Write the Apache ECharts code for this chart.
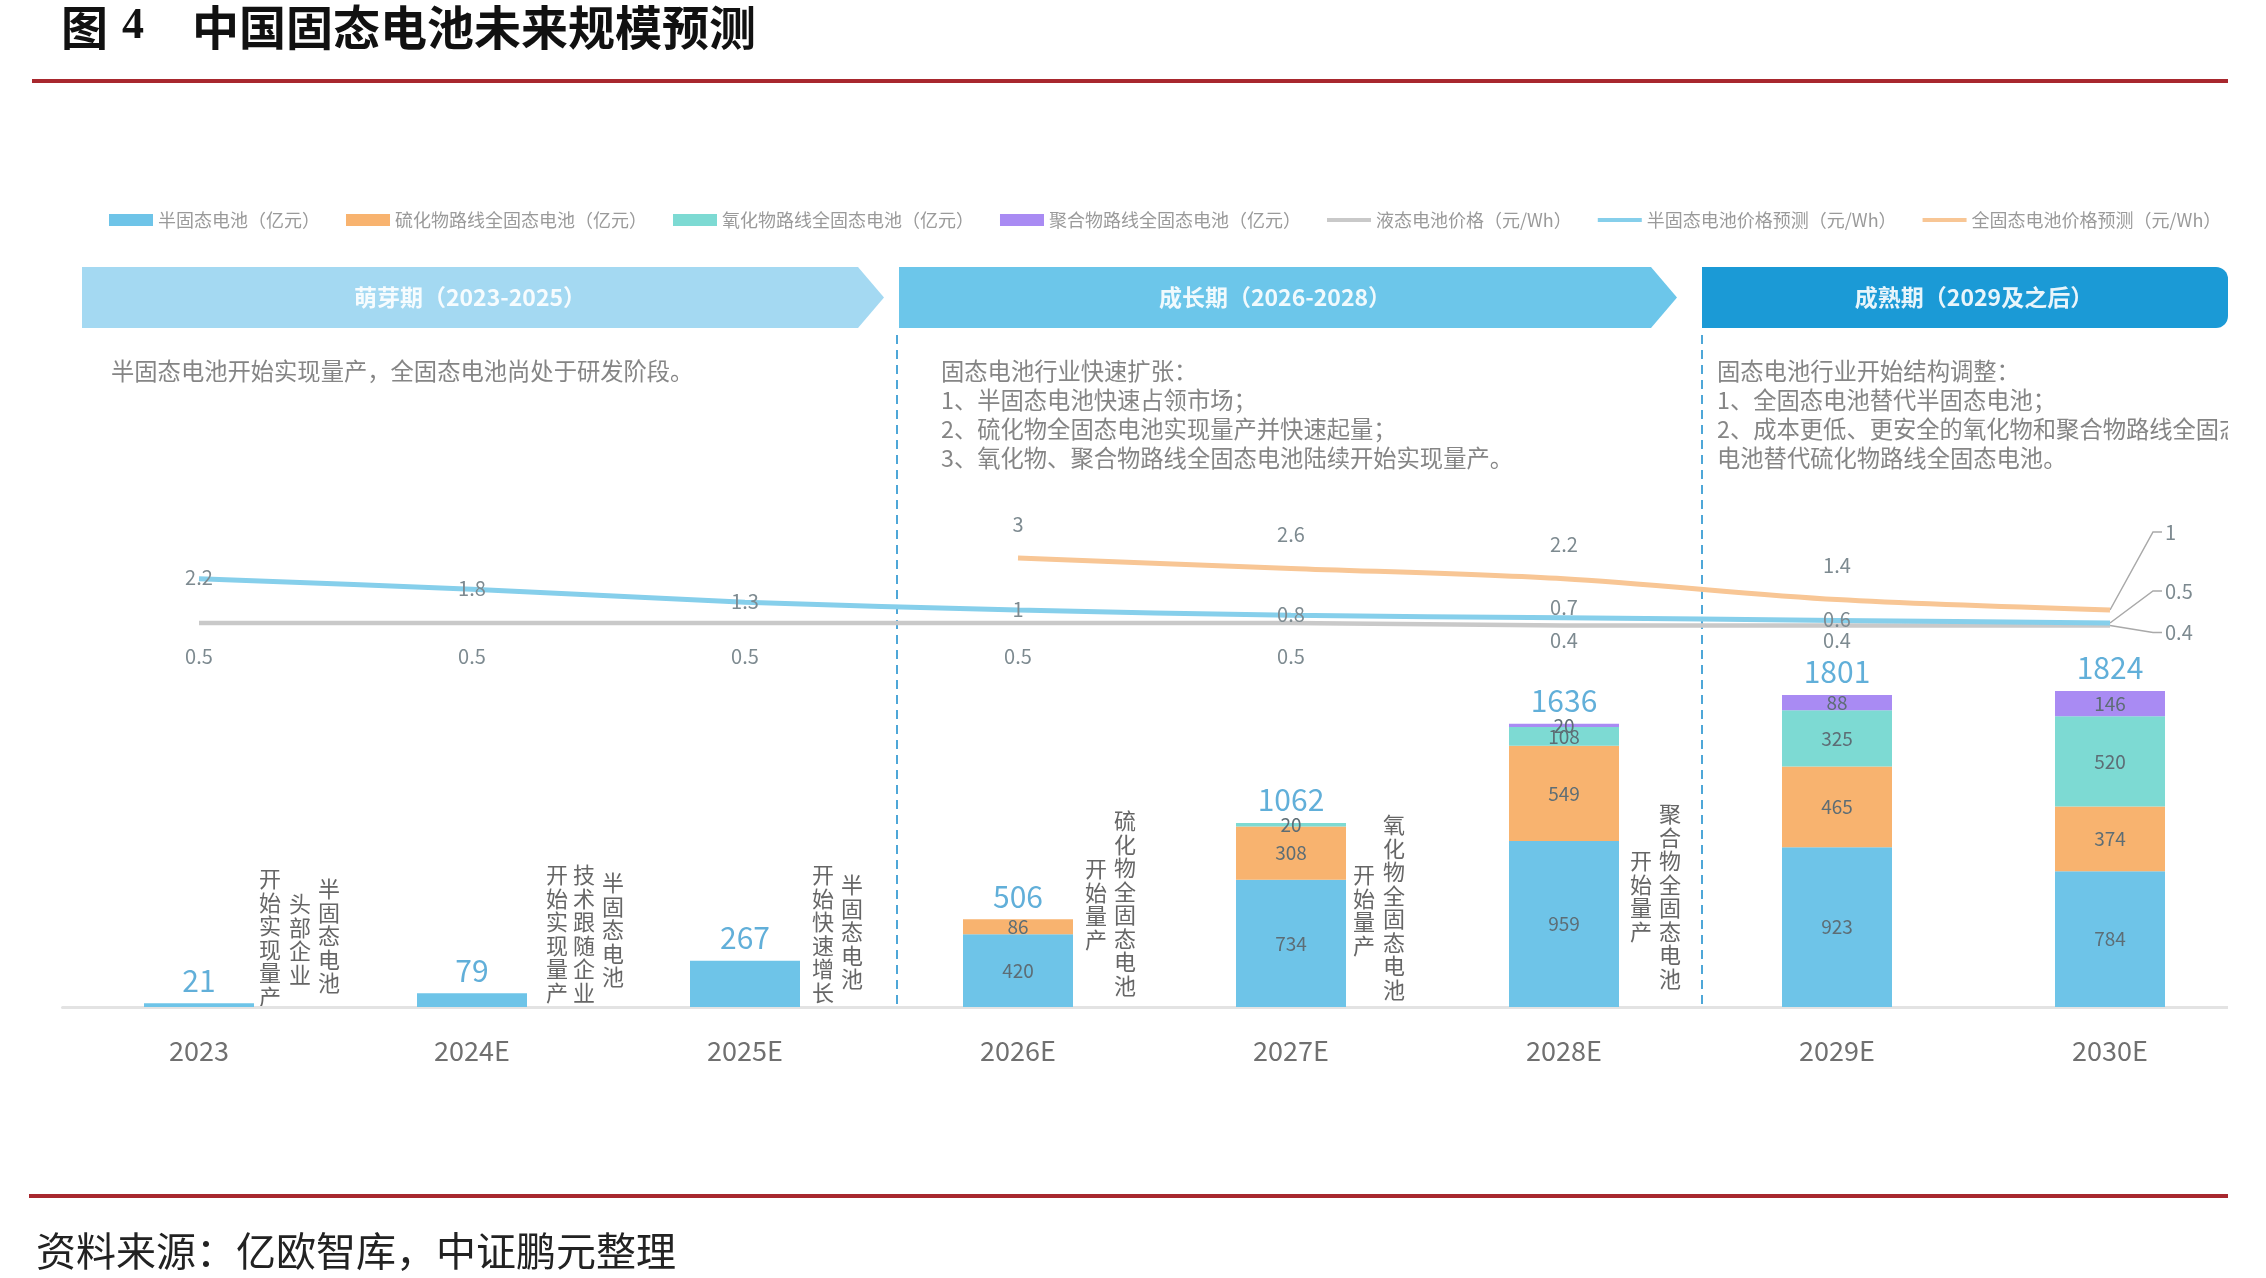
<!DOCTYPE html>
<html>
<head>
<meta charset="utf-8">
<script src="https://cdn.jsdelivr.net/npm/echarts@6/dist/echarts.min.js"></script>
<style>
html,body{margin:0;padding:0;background:#fff;}
#c{width:2266px;height:1278px;overflow:hidden;}
</style>
</head>
<body>
<div id="c"></div>
<script>
// ---------------- DATA ----------------
const categories = ['2023', '2024E', '2025E', '2026E', '2027E', '2028E', '2029E', '2030E'];
const semiSolid = [21, 79, 267, 420, 734, 959, 923, 784];          // 半固态电池（亿元）
const sulfide   = [null, null, null, 86, 308, 549, 465, 374];      // 硫化物路线全固态电池（亿元）
const oxide     = [null, null, null, null, 20, 108, 325, 520];     // 氧化物路线全固态电池（亿元）
const polymer   = [null, null, null, null, null, 20, 88, 146];     // 聚合物路线全固态电池（亿元）
const liquidPrice   = [0.5, 0.5, 0.5, 0.5, 0.5, 0.4, 0.4, 0.4];    // 液态电池价格（元/Wh）
const semiPrice     = [2.2, 1.8, 1.3, 1, 0.8, 0.7, 0.6, 0.5];      // 半固态电池价格预测（元/Wh）
const allSolidPrice = [null, null, null, 3, 2.6, 2.2, 1.4, 1];     // 全固态电池价格预测（元/Wh）

const seriesNames = ['半固态电池（亿元）', '硫化物路线全固态电池（亿元）', '氧化物路线全固态电池（亿元）', '聚合物路线全固态电池（亿元）',
  '液态电池价格（元/Wh）', '半固态电池价格预测（元/Wh）', '全固态电池价格预测（元/Wh）'];

const titleText = '中国固态电池未来规模预测';
const sourceText = '资料来源：亿欧智库，中证鹏元整理';
const phaseTitles = ['萌芽期（2023-2025）', '成长期（2026-2028）', '成熟期（2029及之后）'];
const phaseNotes = [
  ['半固态电池开始实现量产，全固态电池尚处于研发阶段。'],
  ['固态电池行业快速扩张：', '1、半固态电池快速占领市场；', '2、硫化物全固态电池实现量产并快速起量；', '3、氧化物、聚合物路线全固态电池陆续开始实现量产。'],
  ['固态电池行业开始结构调整：', '1、全固态电池替代半固态电池；', '2、成本更低、更安全的氧化物和聚合物路线全固态', '电池替代硫化物路线全固态电池。']
];
const annotationCats = ['2023', '2024E', '2025E', '2026E', '2027E', '2028E'];
const annotationTexts = [
  ['开始实现量产', '头部企业', '半固态电池'],
  ['开始实现量产', '技术跟随企业', '半固态电池'],
  ['开始快速增长', '半固态电池'],
  ['开始量产', '硫化物全固态电池'],
  ['开始量产', '氧化物全固态电池'],
  ['开始量产', '聚合物全固态电池']
];

// ---------------- STYLE / LAYOUT ----------------
const FONT = '"Noto Sans CJK SC", "Noto Sans", sans-serif';
const barColors = ['#6EC4E8', '#F8B36F', '#7DDAD3', '#A98BF3'];
const lineColors = ['#c9c9c9', '#86cfeb', '#f8c695'];
const LINE_ICON = 'path://M0,0 L44,0 L44,4 L0,4 Z';
const CLIP_X = 2228; // right edge of the original figure
// annotation column offsets from category centre [dx, top]
const annotationLayout = [
  [[71, 867], [101, 892], [130, 877]],
  [[85, 863], [112, 863], [141, 871]],
  [[78, 863], [107, 873]],
  [[78, 857], [107, 809]],
  [[73, 863], [103, 813]],
  [[77, 849], [106, 802]]
];

const stacks = [semiSolid, sulfide, oxide, polymer];
const totals = categories.map((_, i) => stacks.reduce((s, a) => s + (a[i] || 0), 0));

const chart = echarts.init(document.getElementById('c'));

function barSeries(k) {
  return {
    name: seriesNames[k], type: 'bar', stack: 'total', xAxisIndex: 0, yAxisIndex: 0,
    barWidth: 110, data: stacks[k], itemStyle: { color: barColors[k] },
    label: {
      show: true, position: 'inside', fontSize: 19, color: '#5d6d75', fontFamily: FONT,
      formatter: p => (p.value != null && totals[p.dataIndex] > p.value) ? String(p.value) : ''
    },
    emphasis: { disabled: true }, z: 3
  };
}

const last = categories.length - 1;
function lineData(arr, labelFn) {
  return arr.map((v, i) => {
    const item = { value: v };
    const l = labelFn(i);
    if (l) item.label = l;
    return item;
  });
}

const option = {
  animation: false,
  textStyle: { fontFamily: FONT },
  legend: {
    left: 104, top: 206, itemWidth: 44, itemHeight: 12, itemGap: 26, selectedMode: false,
    textStyle: { fontSize: 18, color: '#9a9a9a', fontFamily: FONT },
    data: [
      { name: seriesNames[0], icon: 'rect' },
      { name: seriesNames[1], icon: 'rect' },
      { name: seriesNames[2], icon: 'rect' },
      { name: seriesNames[3], icon: 'rect' },
      { name: seriesNames[4], icon: LINE_ICON },
      { name: seriesNames[5], icon: LINE_ICON },
      { name: seriesNames[6], icon: LINE_ICON }
    ]
  },
  grid: [
    { left: 62.5, width: 2184, top: 574, height: 433 },
    { left: 62.5, width: 2184, top: 376, height: 260 }
  ],
  xAxis: [
    { type: 'category', gridIndex: 0, data: categories,
      axisLine: { lineStyle: { color: '#e3e3e3', width: 3 } }, axisTick: { show: false },
      axisLabel: { fontSize: 27, color: '#707070', margin: 30, fontFamily: FONT } },
    { type: 'category', gridIndex: 1, data: categories, show: false }
  ],
  yAxis: [
    { type: 'value', gridIndex: 0, min: 0, max: 2500, show: false, splitLine: { show: false } },
    { type: 'value', gridIndex: 1, min: 0, max: 10, show: false, splitLine: { show: false } }
  ],
  series: [
    barSeries(0), barSeries(1), barSeries(2), barSeries(3),
    {
      name: seriesNames[4], type: 'line', xAxisIndex: 1, yAxisIndex: 1, smooth: 0.3,
      symbol: 'circle', symbolSize: 0, z: 4,
      lineStyle: { width: 4.5, color: lineColors[0] }, itemStyle: { color: lineColors[0] },
      label: { show: true, position: 'bottom', distance: 23, fontSize: 20, color: '#7d8a90', fontFamily: FONT },
      data: lineData(liquidPrice, i => i === last ? { show: false } : (liquidPrice[i] < liquidPrice[0] ? { distance: 5 } : null)),
      emphasis: { disabled: true }
    },
    {
      name: seriesNames[5], type: 'line', xAxisIndex: 1, yAxisIndex: 1, smooth: 0.3,
      symbol: 'circle', symbolSize: 0, z: 5,
      lineStyle: { width: 5, color: lineColors[1] }, itemStyle: { color: lineColors[1] },
      label: { show: true, position: 'inside', fontSize: 20, color: '#7d8a90', fontFamily: FONT, offset: [0, -1] },
      data: lineData(semiPrice, i => i === last ? { show: false } : (i === 5 ? { offset: [0, -10] } : null)),
      emphasis: { disabled: true }
    },
    {
      name: seriesNames[6], type: 'line', xAxisIndex: 1, yAxisIndex: 1, smooth: 0.3,
      symbol: 'circle', symbolSize: 0, z: 6,
      lineStyle: { width: 5, color: lineColors[2] }, itemStyle: { color: lineColors[2] },
      label: { show: true, position: 'top', distance: 24, fontSize: 20, color: '#7d8a90', fontFamily: FONT },
      data: lineData(allSolidPrice, i => i === last ? { show: false } : null),
      emphasis: { disabled: true }
    },
    {
      name: 'totals', type: 'scatter', xAxisIndex: 0, yAxisIndex: 0, symbolSize: 0, z: 7,
      data: totals, itemStyle: { color: '#3a9bd0' },
      label: { show: true, position: 'top', distance: 8, fontSize: 30, color: '#3a9bd0', fontFamily: FONT },
      emphasis: { disabled: true }
    }
  ]
};
chart.setOption(option);

// ---------------- DECORATIONS ----------------
const els = [];
const mid = { textVerticalAlign: 'middle', verticalAlign: 'middle' };
// title
els.push({ type: 'text', style: Object.assign({ x: 61, y: 27, text: '图', font: 'bold 47px ' + FONT, fill: '#111' }, mid) });
els.push({ type: 'text', style: Object.assign({ x: 122, y: 27, text: '4', font: 'bold 44px "Liberation Serif", serif', fill: '#111' }, mid) });
els.push({ type: 'text', style: Object.assign({ x: 192, y: 27, text: titleText, font: 'bold 47px ' + FONT, fill: '#111' }, mid) });
// red rules
els.push({ type: 'line', shape: { x1: 32, y1: 81, x2: CLIP_X, y2: 81 }, style: { stroke: '#a8282e', lineWidth: 4 } });
els.push({ type: 'line', shape: { x1: 29, y1: 1196, x2: CLIP_X, y2: 1196 }, style: { stroke: '#a8282e', lineWidth: 4 } });
// source
els.push({ type: 'text', style: Object.assign({ x: 36, y: 1251, text: sourceText, font: '40px ' + FONT, fill: '#222' }, mid) });

// phase banners
const bTop = 267, bBot = 328, bMid = (bTop + bBot) / 2;
els.push({ type: 'polygon', shape: { points: [[82, bTop], [858, bTop], [884, bMid], [858, bBot], [82, bBot]] }, style: { fill: '#a4d9f2' } });
els.push({ type: 'polygon', shape: { points: [[899, bTop], [1651, bTop], [1677, bMid], [1651, bBot], [899, bBot]] }, style: { fill: '#6cc6ea' } });
els.push({ type: 'rect', shape: { x: 1702, y: bTop, width: CLIP_X - 1702, height: bBot - bTop, r: [0, 12, 12, 0] }, style: { fill: '#1b9ad6' } });
const bannerCx = [470, 1275, 1974];
phaseTitles.forEach((t, i) => {
  els.push({ type: 'text', style: Object.assign({ x: bannerCx[i], y: bMid, text: t, font: 'bold 23px ' + FONT, fill: 'rgba(255,255,255,0.9)', textAlign: 'center', align: 'center' }, mid) });
});
// dashed separators
[897, 1702].forEach(x => {
  els.push({ type: 'line', shape: { x1: x, y1: 335, x2: x, y2: 1004 }, style: { stroke: '#4ea7d8', lineWidth: 2, lineDash: [9, 6] } });
});
// phase notes
const noteX = [111, 941, 1717];
phaseNotes.forEach((lines, i) => {
  lines.forEach((t, j) => {
    els.push({ type: 'text', style: Object.assign({ x: noteX[i], y: 371 + j * 29, text: t, font: '23.3px ' + FONT, fill: '#858585' }, mid) });
  });
});

// vertical annotations
annotationCats.forEach((cat, gi) => {
  const cx = chart.convertToPixel({ xAxisIndex: 0 }, cat);
  annotationTexts[gi].forEach((t, ci) => {
    const [dx, top] = annotationLayout[gi][ci];
    els.push({ type: 'text', style: { x: cx + dx, y: top, text: t.split('').join('\n'), font: '22px ' + FONT, lineHeight: 23.5, fill: '#666', textAlign: 'center', align: 'center', textVerticalAlign: 'top', verticalAlign: 'top' } });
  });
});

// 2030 end labels with leader lines
const endDefs = [
  { si: 4, arr: liquidPrice, dy: 7 },
  { si: 5, arr: semiPrice, dy: -32 },
  { si: 6, arr: allSolidPrice, dy: -78 }
];
endDefs.forEach(d => {
  const p = chart.convertToPixel({ seriesIndex: d.si }, [categories[last], d.arr[last]]);
  const ly = p[1] + d.dy;
  els.push({ type: 'polyline', shape: { points: [[p[0], p[1]], [p[0] + 43, ly], [p[0] + 52, ly]] }, style: { stroke: '#a9a9a9', lineWidth: 1.5, fill: null } });
  els.push({ type: 'text', style: Object.assign({ x: p[0] + 55, y: ly, text: String(d.arr[last]), font: '20px ' + FONT, fill: '#7d8a90' }, mid) });
});

// the original figure is cropped at its right edge
els.push({ type: 'rect', z: 1000, shape: { x: CLIP_X, y: 0, width: 2266 - CLIP_X, height: 1278 }, style: { fill: '#fff' } });

chart.setOption({ graphic: { elements: els } });
</script>
</body>
</html>
